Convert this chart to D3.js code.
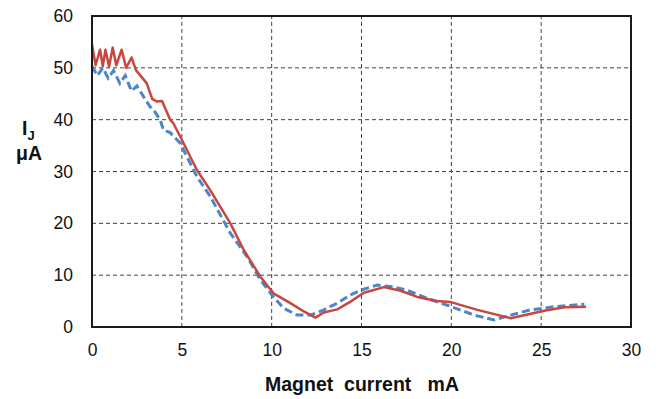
<!DOCTYPE html>
<html>
<head>
<meta charset="utf-8">
<script src="https://cdn.jsdelivr.net/npm/d3@7/dist/d3.min.js"></script>
<style>
  body { margin: 0; background: #fff; }
  svg text { font-family: "Liberation Sans", Arial, sans-serif; }
</style>
</head>
<body>
<div id="chart"></div>
<script>
// magnet current (mA) vs I_J (uA)
const redSeries = [
  [0, 54.5], [0.2, 50.5], [0.45, 53.5], [0.6, 50.3], [0.75, 53.5], [0.95, 50.2],
  [1.15, 53.9], [1.35, 50.5], [1.65, 53.5], [1.9, 50.0], [2.2, 52.0], [2.45, 49.5],
  [2.7, 48.5], [3.05, 47.0], [3.35, 44.0], [3.6, 43.5], [3.9, 43.6], [4.35, 40.0],
  [4.53, 39.3], [5.09, 35.5], [5.84, 30.3], [6.58, 26.4], [7.7, 20.0], [8.44, 14.9],
  [8.8, 12.9], [9.37, 9.7], [10.1, 6.5], [11.04, 4.6], [11.79, 3.0], [12.44, 1.8],
  [12.9, 2.8], [13.65, 3.4], [14.39, 4.9], [15.13, 6.6], [16.25, 7.7], [17.18, 7.0],
  [18.1, 5.8], [19.2, 5.0], [19.97, 4.8], [21.45, 3.3], [23.3, 1.7], [25.17, 3.15],
  [26.3, 3.8], [27.5, 3.9]
];
const blueSeries = [
  [0, 50.3], [0.3, 48.5], [0.6, 50.0], [0.9, 48.0], [1.2, 49.5], [1.55, 47.0],
  [1.85, 48.5], [2.2, 45.5], [2.5, 46.5], [2.86, 44.5], [3.23, 42.5], [3.42, 41.9],
  [3.79, 40.0], [3.98, 38.0], [4.35, 37.5], [4.9, 35.5], [5.09, 34.2], [5.84, 29.0],
  [6.58, 25.2], [7.7, 18.1], [8.63, 13.6], [9.37, 9.1], [10.1, 5.8], [10.67, 3.6],
  [11.42, 2.3], [12.16, 2.3], [12.9, 3.3], [13.65, 4.6], [14.39, 6.2], [15.13, 7.3],
  [15.88, 8.1], [16.62, 7.8], [17.55, 7.1], [18.67, 5.5], [19.78, 4.2], [21.27, 2.3],
  [22.38, 1.35], [23.3, 2.3], [24.4, 3.3], [25.7, 3.9], [27.4, 4.4]
];
const xTicks = [0, 5, 10, 15, 20, 25, 30];
const yTicks = [0, 10, 20, 30, 40, 50, 60];

const width = 660, height = 399;
const margin = {top: 16, right: 29, bottom: 72, left: 92};

const svg = d3.select("#chart")
  .append("svg")
  .attr("width", width)
  .attr("height", height);

const x = d3.scaleLinear().domain([0, 30]).range([margin.left, width - margin.right]);
const y = d3.scaleLinear().domain([0, 60]).range([height - margin.bottom, margin.top]);

// grid
svg.append("g")
  .selectAll("line")
  .data(xTicks.slice(1, -1))
  .join("line")
  .attr("x1", d => x(d)).attr("x2", d => x(d))
  .attr("y1", y(0)).attr("y2", y(60))
  .attr("stroke", "#444")
  .attr("stroke-width", 1)
  .attr("stroke-dasharray", "4,3");

svg.append("g")
  .selectAll("line")
  .data(yTicks.slice(1, -1))
  .join("line")
  .attr("x1", x(0)).attr("x2", x(30))
  .attr("y1", d => y(d)).attr("y2", d => y(d))
  .attr("stroke", "#444")
  .attr("stroke-width", 1)
  .attr("stroke-dasharray", "4,3");

const line = d3.line()
  .x(d => x(d[0]))
  .y(d => y(d[1]));

svg.append("path")
  .datum(blueSeries)
  .attr("d", line)
  .attr("fill", "none")
  .attr("stroke", "#4a86c8")
  .attr("stroke-width", 3)
  .attr("stroke-dasharray", "8,4");

svg.append("path")
  .datum(redSeries)
  .attr("d", line)
  .attr("fill", "none")
  .attr("stroke", "#c8463f")
  .attr("stroke-width", 2.5)
  .attr("stroke-linejoin", "round");

// frame
svg.append("rect")
  .attr("x", x(0))
  .attr("y", y(60))
  .attr("width", x(30) - x(0))
  .attr("height", y(0) - y(60))
  .attr("fill", "none")
  .attr("stroke", "#1a1a1a")
  .attr("stroke-width", 2);

// axes (labels only)
const xAxis = svg.append("g")
  .attr("transform", `translate(0,${y(0)})`)
  .call(d3.axisBottom(x).tickValues(xTicks).tickSize(0).tickPadding(17));
const yAxis = svg.append("g")
  .attr("transform", `translate(${x(0)},0)`)
  .call(d3.axisLeft(y).tickValues(yTicks).tickSize(0).tickPadding(19));

[xAxis, yAxis].forEach(a => {
  a.select(".domain").remove();
  a.selectAll("text")
    .attr("font-size", 17.5)
    .attr("font-family", "Liberation Sans, Arial, sans-serif")
    .attr("fill", "#111");
});

// axis titles
svg.append("text")
  .attr("x", 362)
  .attr("y", 391)
  .attr("text-anchor", "middle")
  .attr("font-size", 19.5)
  .attr("font-weight", "bold")
  .attr("fill", "#111")
  .style("white-space", "pre")
  .text("Magnet  current   mA");

const yl = svg.append("text")
  .attr("x", 22)
  .attr("y", 135)
  .attr("font-size", 19.5)
  .attr("font-weight", "bold")
  .attr("fill", "#111");
yl.append("tspan").text("I");
yl.append("tspan").attr("font-size", 13).attr("dy", 5).text("J");

svg.append("text")
  .attr("x", 29)
  .attr("y", 160)
  .attr("text-anchor", "middle")
  .attr("font-size", 19.5)
  .attr("font-weight", "bold")
  .attr("fill", "#111")
  .text("μA");
</script>
</body>
</html>
